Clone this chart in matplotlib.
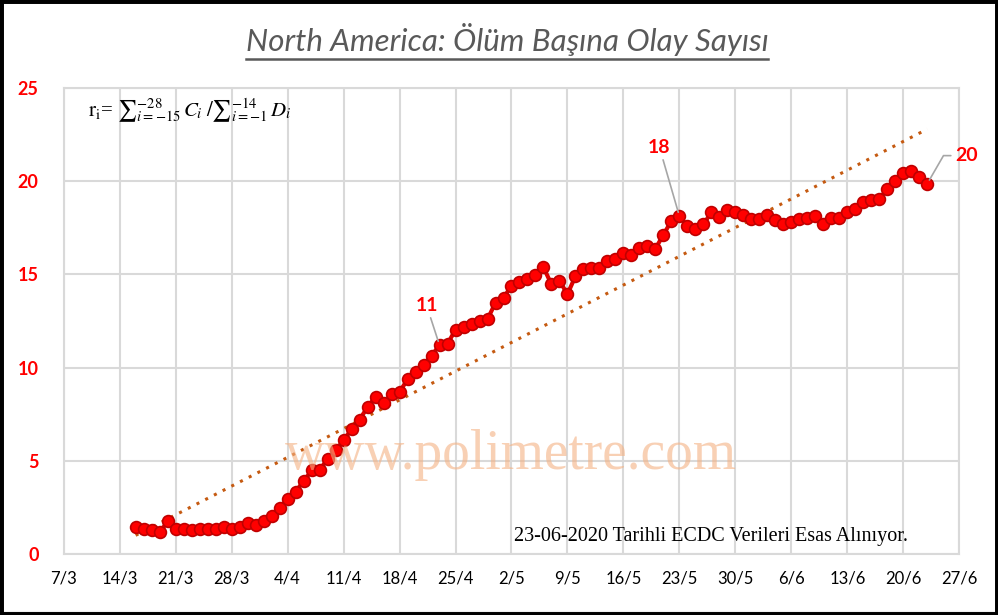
import numpy as np
import pandas as pd
import matplotlib
matplotlib.use("Agg")
import matplotlib.pyplot as plt
from matplotlib.lines import Line2D
from matplotlib.patches import Rectangle

# günlük oran değerleri (16/3 - 23/6)
start_date = "2020-03-16"
values = [
    1.45, 1.36, 1.29, 1.16, 1.75, 1.34, 1.34, 1.27, 1.36, 1.34,
    1.36, 1.45, 1.34, 1.45, 1.65, 1.57, 1.75, 2.04, 2.47, 2.95,
    3.35, 3.90, 4.48, 4.52, 5.08, 5.56, 6.10, 6.69, 7.21, 7.88,
    8.44, 8.12, 8.58, 8.69, 9.37, 9.75, 10.16, 10.64, 11.20, 11.28,
    12.03, 12.18, 12.33, 12.48, 12.59, 13.49, 13.74, 14.39, 14.60, 14.77,
    14.99, 15.38, 14.46, 14.65, 13.94, 14.91, 15.29, 15.36, 15.36, 15.74,
    15.81, 16.13, 16.02, 16.40, 16.55, 16.38, 17.13, 17.87, 18.12, 17.58,
    17.42, 17.68, 18.34, 18.08, 18.43, 18.33, 18.17, 17.95, 17.95, 18.18,
    17.94, 17.73, 17.82, 17.96, 18.04, 18.12, 17.72, 18.04, 18.03, 18.35,
    18.49, 18.90, 18.99, 19.06, 19.58, 20.01, 20.46, 20.56, 20.24, 19.87,
]
# etiketli noktalar (indeks, metin)
label_idx = [38, 68, 99]
label_txt = ["11", "18", "20"]

tick_dates = pd.date_range("2020-03-07", "2020-06-27", freq="7D")
tick_labels = [f"{d.day}/{d.month}" for d in tick_dates]
y_ticks = [0, 5, 10, 15, 20, 25]

dates = pd.date_range(start_date, periods=len(values), freq="D")
x = np.array([(d - tick_dates[0]).days for d in dates], dtype=float)
y = np.array(values)
tx = np.array([(d - tick_dates[0]).days for d in tick_dates], dtype=float)

W, H = 998, 615
fig = plt.figure(figsize=(W / 100, H / 100), dpi=100)
ax = fig.add_axes([63.7 / W, 1 - 554 / H, (959.3 - 63.7) / W, (554 - 88) / H])

grid_c = "#D9D9D9"
ax.set_xlim(tx[0], tx[-1])
ax.set_ylim(0, 25)
ax.set_xticks(tx)
ax.set_xticklabels(tick_labels, fontsize=12, family="Lato", color="black")
ax.set_yticks(y_ticks)
ax.set_yticklabels([str(v) for v in y_ticks], fontsize=13, family="Lato",
                   fontweight="bold", color="#FF0000")
ax.tick_params(length=0, pad=12)
ax.tick_params(axis="y", pad=18)
ax.grid(True, color=grid_c, linewidth=1.5)
for s in ax.spines.values():
    s.set_color(grid_c)
    s.set_linewidth(1.5)
ax.set_axisbelow(True)

# trend çizgisi (doğrusal)
k, b = np.polyfit(x, y, 1)
ax.plot(x, k * x + b, color="#C55A11", linestyle=(0, (1, 2.2)), linewidth=2.2, zorder=2)

ax.plot(x, y, color="#E00000", linewidth=3, marker="o", markersize=8.5,
        markerfacecolor="#FF0000", markeredgecolor="#C00000", markeredgewidth=1.2, zorder=3)

# veri etiketleri
offsets = [(-13, 40), (-20, 69), (39, 28)]
conns = ["arc3", "arc3", "angle,angleA=180,angleB=60,rad=0"]
for i, t, off, cs in zip(label_idx, label_txt, offsets, conns):
    ax.annotate(t, xy=(x[i], y[i]), xytext=off, textcoords="offset pixels",
                ha="center", va="center", fontsize=14, fontweight="bold",
                family="Lato", color="#FF0000",
                arrowprops=dict(arrowstyle="-", color="#A6A6A6", lw=1.2,
                                connectionstyle=cs, shrinkA=1, shrinkB=3),
                zorder=5)

# filigran
fig.text(511 / W, 1 - 455 / H, "www.polimetre.com", fontsize=40,
         family="Liberation Serif", color="#F4B183", alpha=0.6,
         ha="center", va="center", zorder=10)

# formül
plt.rcParams["mathtext.fontset"] = "stix"
fig.text(88 / W, 1 - 110 / H,
         r"$\mathrm{r_i}$= ${\sum}_{i=-15}^{-28}\,C_i\;/{\sum}_{i=-1}^{-14}\,D_i$",
         fontsize=15, family="Liberation Serif", ha="left", va="center")

# kaynak notu
fig.text(908 / W, 1 - 537 / H, "23-06-2020 Tarihli ECDC Verileri Esas Alınıyor.",
         fontsize=14.5, family="Liberation Serif", ha="right", va="center")

# başlık
title = fig.text(507 / W, 1 - 40 / H, "North America: Ölüm Başına Olay Sayısı",
                 fontsize=22.5, family="Lato", style="italic",
                 color="#595959", ha="center", va="center")
fig.canvas.draw()
bb = title.get_window_extent()
fig.add_artist(Line2D([bb.x0 / W, bb.x1 / W], [(bb.y0 - 2) / H] * 2,
                      color="#595959", linewidth=1.8))

# çerçeve
fig.add_artist(Rectangle((2 / W, 3 / H), (W - 4) / W, (H - 5) / H, fill=False,
                         edgecolor="#BFBFBF", linewidth=1, transform=fig.transFigure))
fig.add_artist(Rectangle((0, 0), 1, 1, fill=False, edgecolor="black",
                         linewidth=5, transform=fig.transFigure))

fig.savefig("out.png", dpi=100)
